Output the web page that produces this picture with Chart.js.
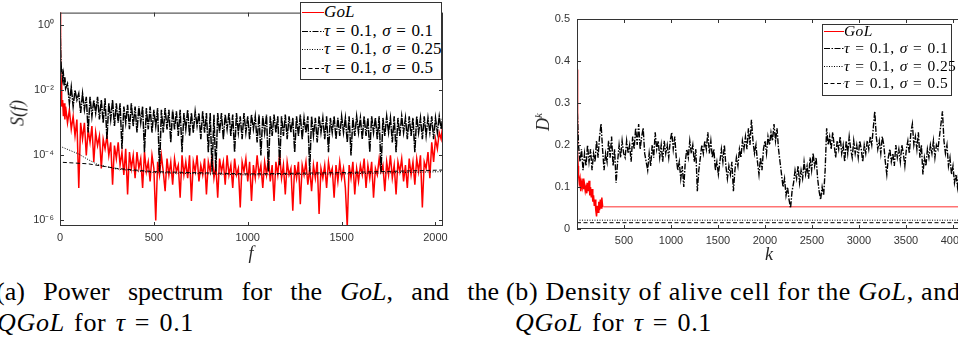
<!DOCTYPE html>
<html>
<head>
<meta charset="utf-8">
<title>GoL / QGoL spectrum and density</title>
<script src="https://cdn.jsdelivr.net/npm/chart.js@4.4.1/dist/chart.umd.min.js"></script>
<style>
  html, body { margin: 0; padding: 0; background: #fff; }
  body { position: relative; width: 958px; height: 345px; overflow: hidden; }
  canvas { position: absolute; }
  .lbl { position: absolute; font-family: "Liberation Serif", "DejaVu Serif", serif; font-style: italic; color: #262626; font-size: 18px; white-space: nowrap; }
  .rot { transform: translate(-50%, -50%) rotate(-90deg); }
  .ctr { transform: translate(-50%, -50%); }
  .legend { position: absolute; box-sizing: border-box; border: 1px solid #333; background: #fff; font-family: "Liberation Serif", "DejaVu Serif", serif; color: #000; letter-spacing: 0.4px; word-spacing: 1px; }
  .legend .row { position: absolute; left: 1px; white-space: nowrap; display: flex; align-items: center; }
  .legend svg { display: block; }
  .cap { position: absolute; font-family: "Liberation Serif", "DejaVu Serif", serif; font-size: 26px; line-height: 30px; color: #000; white-space: nowrap; letter-spacing: 0.7px; }
  .cap.l2 { word-spacing: 2px; }
</style>
</head>
<body>
<canvas id="chartA" width="460" height="262" style="left:0;top:0"></canvas>
<canvas id="chartB" width="460" height="265" style="left:520px;top:0"></canvas>

<div class="lbl rot" style="left:18px;top:113px">S(f)</div>
<div class="lbl ctr" style="left:251px;top:253px">f</div>
<div class="lbl rot" style="left:543px;top:122px">D<sup style="font-size:11px">k</sup></div>
<div class="lbl ctr" style="left:769px;top:254px">k</div>

<div class="legend" id="legendA" style="left:300px;top:2px;width:142px;height:78px;font-size:17px;letter-spacing:0.15px"></div>
<div class="legend" id="legendB" style="left:822px;top:24px;width:130px;height:72px;font-size:15.5px"></div>

<div class="cap" style="left:-4px;top:277px;width:503px;text-align:justify;text-align-last:justify;white-space:normal;letter-spacing:0">(a) Power spectrum for the <i>GoL</i>, and the</div>
<div class="cap l2" style="left:-3px;top:308px"><i>QGoL</i> for <i>τ</i> = 0.1</div>
<div class="cap" style="left:506px;top:277px">(b) Density of alive cell for the <i>GoL</i>, and the</div>
<div class="cap l2" style="left:515px;top:308px"><i>QGoL</i> for <i>τ</i> = 0.1</div>

<script>
// ---------- (a) power spectrum, values are log10 S(f) ----------
const specHeadF = [0, 2, 4, 6, 8, 10, 14, 18, 22, 26, 30];
// after the head the spectrum is sampled every 10 from 40 to 2040, then 2047
const freqA = specHeadF.concat(Array.from({ length: 201 }, (_, i) => 40 + 10 * i), [2047]);

const logSGoL = [
  0.4, -0.6, -1.3, -1.7, -2.0, -2.5, -2.3, -2.8, -2.4, -2.9, -2.5,
  -3.0, -2.6, -3.2, -2.8, -3.4, -2.9, -5.0,
  -3.0, -3.5, -3.0, -4.0, -3.2, -3.6, -3.1, -4.2, -3.3, -3.7,
  -3.4, -4.4, -3.5, -3.8, -3.4, -4.0, -3.6, -4.9, -3.7, -4.1,
  -3.6, -4.3, -3.9, -4.6, -3.8, -5.2, -3.9, -4.4, -4.0, -4.7,
  -3.9, -4.4, -4.1, -5.0, -3.9, -4.5, -4.2, -4.8, -4.0, -4.4,
  -6.0, -4.2, -4.6, -4.0, -4.5, -5.1, -4.1, -4.6, -4.2, -4.9,
  -4.1, -4.5, -4.3, -5.3, -4.0, -4.6, -4.2, -4.7, -4.0, -5.4,
  -4.2, -4.5, -4.0, -4.8, -4.3, -4.6, -4.1, -5.2, -4.2, -4.5,
  -4.0, -4.7, -4.3, -5.3, -4.1, -4.5, -4.2, -4.9, -4.0, -4.6,
  -4.3, -5.0, -4.1, -4.6, -4.4, -5.6, -4.2, -4.5, -4.1, -4.8,
  -4.2, -5.4, -4.3, -4.7, -4.0, -4.6, -4.3, -5.0, -4.2, -4.6,
  -4.1, -4.8, -4.3, -5.4, -4.2, -4.6, -3.95, -4.7, -4.3, -5.2,
  -4.2, -4.6, -4.4, -5.7, -4.3, -4.7, -4.2, -5.5, -4.3, -4.6,
  -4.2, -4.9, -4.4, -5.1, -4.3, -4.7, -4.2, -5.8, -4.4, -4.7,
  -4.3, -5.0, -4.2, -4.6, -4.4, -5.3, -4.3, -4.8, -4.2, -4.7,
  -4.4, -5.0, -6.2, -4.3, -4.7, -4.2, -5.2, -4.4, -4.8, -4.3,
  -4.6, -4.1, -5.0, -4.3, -4.7, -4.2, -5.3, -4.4, -4.6, -4.1,
  -4.5, -4.3, -5.1, -4.2, -4.6, -4.0, -4.7, -4.3, -5.2, -4.2,
  -4.5, -4.1, -4.8, -4.3, -5.0, -4.1, -4.6, -4.2, -4.9, -4.1,
  -4.5, -4.0, -5.6, -4.2, -4.4, -3.9, -4.7, -3.6, -4.2, -3.5,
  -3.8, -3.3, -3.5, -3.0,
  -2.7
];

const logSQ01 = [
  0.3, -0.4, -0.9, -1.2, -1.45, -1.35, -1.65, -1.5, -1.85, -1.6, -1.95,
  -1.8, -2.4, -1.9, -2.5, -2.0, -2.3, -2.1,
  -2.7, -2.1, -2.6, -2.2, -3.3, -2.2, -2.8, -2.3, -2.7, -2.2,
  -2.9, -2.3, -3.0, -2.25, -3.5, -2.4, -2.9, -2.3, -3.1, -2.4,
  -3.0, -2.4, -3.8, -2.5, -3.0, -2.45, -3.2, -2.4, -3.1, -2.5,
  -3.3, -2.5, -3.0, -2.5, -3.9, -2.55, -3.2, -2.5, -3.3, -2.6,
  -3.1, -2.55, -4.5, -2.6, -3.3, -2.55, -3.2, -2.6, -3.6, -2.6,
  -3.2, -2.65, -3.4, -2.6, -3.9, -2.7, -3.2, -2.6, -3.4, -2.7,
  -3.3, -2.65, -3.1, -2.7, -3.5, -2.65, -3.3, -2.7, -3.9, -2.7,
  -4.5, -2.75, -4.5, -2.7, -3.3, -2.7, -3.5, -2.75, -3.2, -2.7,
  -3.4, -2.75, -3.9, -2.7, -3.3, -2.8, -3.5, -2.7, -3.3, -2.8,
  -3.5, -2.75, -3.2, -2.8, -3.6, -2.75, -4.0, -2.8, -3.3, -2.75,
  -4.5, -2.8, -3.4, -2.75, -3.3, -2.8, -4.3, -2.8, -3.4, -2.75,
  -3.5, -2.8, -3.3, -2.85, -3.9, -2.8, -3.4, -2.75, -3.5, -2.85,
  -3.3, -2.8, -4.5, -2.8, -3.4, -2.85, -3.6, -2.8, -3.3, -2.85,
  -3.5, -2.8, -3.9, -2.85, -3.3, -2.8, -3.5, -2.85, -3.4, -2.8,
  -3.3, -2.85, -3.6, -2.8, -4.0, -2.85, -3.4, -2.8, -3.3, -2.85,
  -3.5, -2.8, -3.4, -2.85, -3.9, -2.8, -3.3, -2.85, -3.5, -2.8,
  -4.5, -2.85, -3.4, -2.8, -3.3, -2.85, -3.6, -2.8, -3.9, -2.85,
  -3.4, -2.8, -3.3, -2.85, -3.5, -2.8, -3.4, -2.85, -3.9, -2.8,
  -3.3, -2.85, -3.5, -2.8, -3.4, -2.85, -3.3, -2.8, -3.5, -2.85,
  -3.3, -2.8, -3.2, -2.75,
  -2.9
];

const freqQ025 = [0, 100, 150, 200, 300, 500, 1000, 1500, 2047];
const logSQ025 = [-3.72, -3.96, -4.13, -4.28, -4.42, -4.53, -4.6, -4.57, -4.5];
const freqQ05 = [0, 1, 150, 300, 500, 1000, 1500, 2047];
const logSQ05 = [0.3, -4.21, -4.26, -4.4, -4.5, -4.57, -4.53, -4.45];

const xTicksA = [0, 500, 1000, 1500, 2000];
const yTicksA = [1e-6, 1e-4, 1e-2, 1];
const yTickLabelsA = ['10⁻⁶', '10⁻⁴', '10⁻²', '10⁰'];

// ---------- (b) density of alive cells ----------
// noisy QGoL run sampled every 16 steps from 0 to 4096
const stepsB = Array.from({ length: 257 }, (_, i) => 16 * i);
const densQ01 = [
  0.30, 0.20, 0.16, 0.19, 0.14, 0.18, 0.15, 0.20, 0.16, 0.19, 0.14, 0.18, 0.16, 0.21, 0.17, 0.22,
  0.25, 0.19, 0.14, 0.18, 0.16, 0.21, 0.17, 0.22, 0.15, 0.19, 0.11, 0.16, 0.20, 0.17, 0.21, 0.18,
  0.17, 0.21, 0.18, 0.20, 0.16, 0.22, 0.19, 0.24, 0.20, 0.25, 0.19, 0.22, 0.24, 0.18, 0.16, 0.14,
  0.18, 0.15, 0.20, 0.17, 0.23, 0.19, 0.21, 0.17, 0.20, 0.16, 0.21, 0.18, 0.20, 0.17, 0.21, 0.23,
  0.19, 0.22, 0.17, 0.14, 0.16, 0.12, 0.15, 0.10, 0.16, 0.19, 0.17, 0.21, 0.18, 0.20, 0.16, 0.19,
  0.09, 0.14, 0.17, 0.20, 0.18, 0.21, 0.19, 0.23, 0.18, 0.21, 0.17, 0.19, 0.14, 0.16, 0.13, 0.16,
  0.19, 0.16, 0.20, 0.15, 0.12, 0.15, 0.13, 0.16, 0.09, 0.14, 0.17, 0.15, 0.19, 0.17, 0.21, 0.19,
  0.22, 0.19, 0.24, 0.20, 0.26, 0.21, 0.18, 0.20, 0.16, 0.13, 0.17, 0.14, 0.19, 0.21, 0.18, 0.22,
  0.20, 0.23, 0.21, 0.25, 0.21, 0.24, 0.19, 0.16, 0.13, 0.10, 0.12, 0.08, 0.10, 0.07, 0.05, 0.09,
  0.11, 0.14, 0.12, 0.15, 0.11, 0.14, 0.12, 0.16, 0.13, 0.15, 0.12, 0.17, 0.14, 0.18, 0.15, 0.17,
  0.12, 0.09, 0.07, 0.10, 0.08, 0.14, 0.24, 0.20, 0.22, 0.19, 0.23, 0.20, 0.17, 0.21, 0.19, 0.22,
  0.18, 0.20, 0.16, 0.21, 0.18, 0.22, 0.19, 0.17, 0.21, 0.18, 0.20, 0.17, 0.21, 0.19, 0.16, 0.20,
  0.18, 0.21, 0.19, 0.22, 0.20, 0.24, 0.28, 0.22, 0.19, 0.21, 0.18, 0.22, 0.20, 0.16, 0.13, 0.17,
  0.19, 0.16, 0.18, 0.15, 0.20, 0.17, 0.19, 0.16, 0.20, 0.18, 0.15, 0.19, 0.21, 0.18, 0.23, 0.25,
  0.20, 0.22, 0.19, 0.23, 0.17, 0.20, 0.13, 0.17, 0.15, 0.19, 0.17, 0.20, 0.18, 0.21, 0.17, 0.20,
  0.19, 0.22, 0.25, 0.28, 0.21, 0.18, 0.20, 0.15, 0.17, 0.13, 0.15, 0.11, 0.13, 0.10, 0.14, 0.12,
  0.13
];
const stepsGoL = [0, 4, 8, 12, 16, 24, 32, 40, 48, 56, 64, 72, 80, 88, 96, 104, 112, 120, 128,
  136, 144, 152, 160, 168, 176, 184, 192, 200, 208, 216, 224, 232, 240, 248, 256, 264, 272, 280, 4096];
const densGoL = [0.38, 0.25, 0.18, 0.15, 0.13, 0.11, 0.12, 0.09, 0.11, 0.10, 0.12, 0.095, 0.105, 0.09,
  0.10, 0.085, 0.11, 0.09, 0.115, 0.08, 0.10, 0.075, 0.095, 0.065, 0.08, 0.055, 0.07, 0.045, 0.03,
  0.055, 0.04, 0.065, 0.045, 0.07, 0.05, 0.075, 0.055, 0.053, 0.053];
const stepsFlat = [0, 4096];
const densQ025 = [0.021, 0.021];
const densQ05 = [0.015, 0.015];

const xTicksB = [500, 1000, 1500, 2000, 2500, 3000, 3500, 4000];
const yTicksB = [0, 0.1, 0.2, 0.3, 0.4, 0.5];

// ---------- styles ----------
const RED = '#ff0000';
const dashDot = [6, 1.5, 1.5, 1.5];
const dotted = [1, 1.5];
const dashed = [4, 2.5];

const series = [
  { name: '<i>GoL</i>', color: RED, dash: [], width: 1.5 },
  { name: '<i>τ</i> = 0.1, <i>σ</i> = 0.1', color: '#000', dash: dashDot, width: 1.3 },
  { name: '<i>τ</i> = 0.1, <i>σ</i> = 0.25', color: '#000', dash: dotted, width: 1 },
  { name: '<i>τ</i> = 0.1, <i>σ</i> = 0.5', color: '#000', dash: dashed, width: 1 }
];

function points(xs, ys, map) {
  return xs.map((x, i) => ({ x: x, y: map ? map(ys[i]) : ys[i] }));
}
const pow10 = (v) => Math.pow(10, v);

function lineDs(s, data, extra) {
  return Object.assign({
    data: data, borderColor: s.color, borderWidth: s.width, borderDash: s.dash,
    pointRadius: 0, tension: 0, fill: false
  }, extra || {});
}

// inward ticks and box, MATLAB style
const boxTicks = {
  id: 'boxTicks',
  afterDatasetsDraw(chart) {
    const { ctx, chartArea: a, scales } = chart;
    const x = scales.x, y = scales.y;
    ctx.save();
    ctx.strokeStyle = '#333';
    ctx.lineWidth = 1;
    ctx.setLineDash([]);
    ctx.strokeRect(a.left + 0.5, a.top + 0.5, a.right - a.left - 1, a.bottom - a.top - 1);
    ctx.beginPath();
    x.ticks.forEach((t) => {
      const px = Math.round(x.getPixelForValue(t.value)) + 0.5;
      ctx.moveTo(px, a.bottom); ctx.lineTo(px, a.bottom - 4);
      ctx.moveTo(px, a.top); ctx.lineTo(px, a.top + 4);
    });
    y.ticks.forEach((t) => {
      const py = Math.round(y.getPixelForValue(t.value)) + 0.5;
      ctx.moveTo(a.left, py); ctx.lineTo(a.left + 4, py);
      ctx.moveTo(a.right, py); ctx.lineTo(a.right - 4, py);
    });
    ctx.stroke();
    ctx.restore();
  }
};

const tickFont = { family: 'Liberation Sans, Arial, sans-serif', size: 11 };

function axis(extra) {
  return Object.assign({
    grid: { display: false, drawTicks: false },
    border: { display: false }
  }, extra);
}

function baseOptions(padding, scales) {
  return {
    responsive: false,
    animation: false,
    events: [],
    layout: { padding: padding },
    plugins: { legend: { display: false }, tooltip: { enabled: false } },
    scales: scales
  };
}

// chart (a)
new Chart(document.getElementById('chartA'), {
  type: 'line',
  data: {
    datasets: [
      lineDs(series[0], points(freqA, logSGoL, pow10), { order: 5 }),
      lineDs(series[1], points(freqA, logSQ01, pow10), { order: 2, borderWidth: 1.5, borderDash: [8, 1, 1.5, 1] }),
      lineDs(series[2], points(freqQ025, logSQ025, pow10), { order: 1 }),
      lineDs(series[3], points(freqQ05, logSQ05, pow10), { order: 0 })
    ]
  },
  options: baseOptions({ top: 1, right: 17, left: 0, bottom: 0 }, {
    x: axis({
      type: 'linear', min: 0, max: 2040,
      afterBuildTicks: (s) => { s.ticks = xTicksA.map((v) => ({ value: v })); },
      afterFit: (s) => { s.height = 36; },
      ticks: { font: tickFont, color: '#333', maxRotation: 0, autoSkip: false, padding: 5,
        callback: (v) => String(v) }
    }),
    y: axis({
      type: 'logarithmic', min: Math.pow(10, -6.17), max: Math.pow(10, 0.385),
      afterBuildTicks: (s) => { s.ticks = yTicksA.map((v) => ({ value: v })); },
      afterFit: (s) => { s.width = 60; },
      ticks: { font: tickFont, color: '#333', padding: 6, autoSkip: false,
        callback: (v, i) => yTickLabelsA[i] }
    })
  }),
  plugins: [boxTicks]
});

// chart (b)
new Chart(document.getElementById('chartB'), {
  type: 'line',
  data: {
    datasets: [
      lineDs(series[0], points(stepsGoL, densGoL), {
        order: 5,
        segment: { borderColor: (c) => (c.p0.parsed.x >= 280 ? '#ff7373' : RED) }
      }),
      lineDs(series[1], points(stepsB, densQ01), { order: 2, borderWidth: 1.4 }),
      lineDs(series[2], points(stepsFlat, densQ025), { order: 1 }),
      lineDs(series[3], points(stepsFlat, densQ05), { order: 0 })
    ]
  },
  options: baseOptions({ top: 19, right: 18, left: 0, bottom: 0 }, {
    x: axis({
      type: 'linear', min: 0, max: 4096,
      afterBuildTicks: (s) => { s.ticks = xTicksB.map((v) => ({ value: v })); },
      afterFit: (s) => { s.height = 36; },
      ticks: { font: tickFont, color: '#333', maxRotation: 0, autoSkip: false, padding: 5,
        callback: (v) => String(v) }
    }),
    y: axis({
      type: 'linear', min: 0, max: 0.5,
      afterBuildTicks: (s) => { s.ticks = yTicksB.map((v) => ({ value: v })); },
      afterFit: (s) => { s.width = 57; },
      ticks: { font: tickFont, color: '#333', padding: 7, autoSkip: false,
        callback: (v) => String(v) }
    })
  }),
  plugins: [boxTicks]
});

// legends
function buildLegend(id, rowTops, lineLen) {
  const box = document.getElementById(id);
  box.innerHTML = series.map((s, i) =>
    '<div class="row" style="top:' + rowTops[i] + 'px">' +
    '<svg width="' + lineLen + '" height="10"><line x1="0" y1="5.5" x2="' + lineLen + '" y2="5.5" stroke="' + s.color +
    '" stroke-width="1" stroke-dasharray="' + (s.dash.join(' ') || 'none') + '"/></svg>' +
    '<span>' + s.name + '</span></div>').join('');
}
buildLegend('legendA', [-1, 18, 36, 55], 22);
buildLegend('legendB', [-3, 14, 32, 49], 20);
</script>
</body>
</html>
